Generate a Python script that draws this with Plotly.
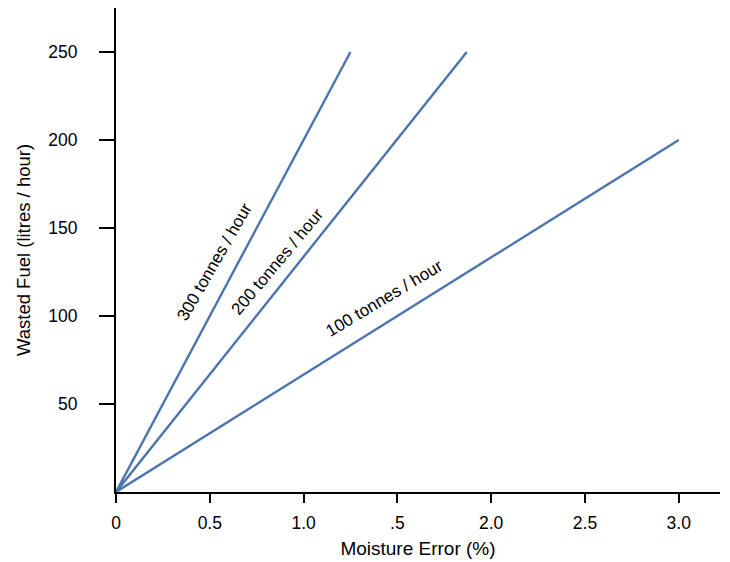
import plotly.graph_objects as go

series_names = ["300 tonnes / hour", "200 tonnes / hour", "100 tonnes / hour"]
x_values = [[0, 1.25], [0, 1.87], [0, 3.0]]
y_values = [[0, 250], [0, 250], [0, 200]]

label_x = [0.527, 0.862, 1.43]
label_y = [131, 131, 110]
label_angle = [-60, -50, -31]

x_tickvals = [0, 0.5, 1.0, 1.5, 2.0, 2.5, 3.0]
x_ticktext = ["0", "0.5", "1.0", ".5", "2.0", "2.5", "3.0"]
y_tickvals = [50, 100, 150, 200, 250]

color = "#4a74ab"
fig = go.Figure()
for n, xs, ys in zip(series_names, x_values, y_values):
    fig.add_trace(go.Scatter(x=xs, y=ys, mode="lines", name=n,
                             line=dict(color=color, width=2.4)))

for n, lx, ly, ang in zip(series_names, label_x, label_y, label_angle):
    fig.add_annotation(x=lx, y=ly, text=n, showarrow=False, textangle=ang,
                       font=dict(size=17, color="black"))

fig.update_layout(
    width=722, height=554,
    margin=dict(l=108, r=10, t=0, b=70),
    plot_bgcolor="white", paper_bgcolor="white",
    showlegend=False,
    font=dict(family="Liberation Sans, Arial, sans-serif", size=17.5, color="black"),
)
fig.update_xaxes(range=[0, 3.22], tickvals=x_tickvals, ticktext=x_ticktext,
                 showline=True, linecolor="black", linewidth=2,
                 ticks="outside", ticklen=9, tickwidth=2, tickcolor="black",
                 ticklabelstandoff=5, showgrid=False, zeroline=False,
                 title=dict(text="Moisture Error (%)", standoff=10, font=dict(size=19)))
fig.update_yaxes(range=[0, 275], tickvals=y_tickvals,
                 showline=True, linecolor="black", linewidth=2,
                 ticks="outside", ticklen=15, tickwidth=2, tickcolor="black",
                 ticklabelstandoff=18, showgrid=False, zeroline=False,
                 automargin=True,
                 title=dict(text="Wasted Fuel (litres / hour)", standoff=13, font=dict(size=18.5)))

fig.write_html("out.html")
